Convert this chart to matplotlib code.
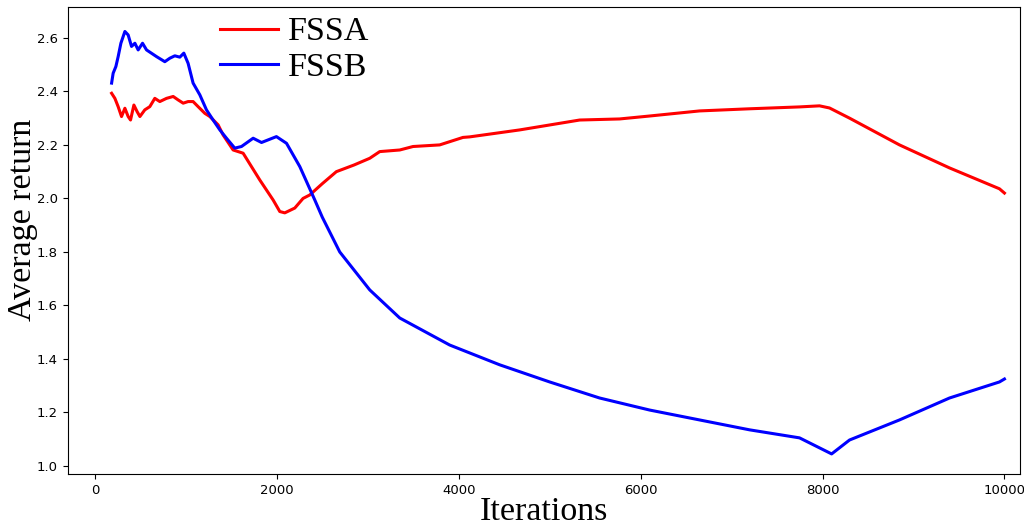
import matplotlib.pyplot as plt

# FSSA (red)
fssa_x = [184, 220, 256, 293, 330, 366, 392, 429, 465, 495, 549, 604, 659, 714,
          788, 861, 916, 971, 1025, 1080, 1135, 1209, 1264, 1355, 1410, 1520,
          1630, 1813, 1960, 2033, 2088, 2198, 2289, 2363, 2500, 2655, 2850, 3022,
          3132, 3352, 3498, 3791, 4047, 4121, 4670, 5330, 5769, 6099, 6648, 7198,
          7747, 7967, 8077, 8297, 8846, 9396, 9945, 10000]
fssa_y = [2.393, 2.374, 2.343, 2.306, 2.337, 2.306, 2.293, 2.349, 2.324, 2.306,
          2.331, 2.343, 2.374, 2.362, 2.374, 2.381, 2.368, 2.356, 2.362, 2.362,
          2.343, 2.318, 2.306, 2.275, 2.237, 2.181, 2.169, 2.069, 1.994, 1.951,
          1.946, 1.964, 2.000, 2.013, 2.055, 2.100, 2.125, 2.150, 2.175, 2.181,
          2.194, 2.200, 2.228, 2.230, 2.256, 2.293, 2.297, 2.308, 2.327, 2.335,
          2.342, 2.346, 2.338, 2.300, 2.200, 2.114, 2.036, 2.020]

# FSSB (blue)
fssb_x = [184, 201, 231, 256, 286, 330, 366, 403, 440, 476, 524, 568, 678, 769,
          824, 879, 934, 978, 1025, 1080, 1154, 1227, 1300, 1374, 1447, 1538,
          1612, 1740, 1832, 1996, 2107, 2253, 2418, 2500, 2692, 3022, 3352, 3901,
          4451, 5000, 5549, 6099, 6648, 7198, 7747, 8100, 8297, 8846, 9396, 9945,
          10000]
fssb_y = [2.431, 2.468, 2.493, 2.530, 2.580, 2.624, 2.611, 2.568, 2.580, 2.555,
          2.580, 2.555, 2.530, 2.511, 2.524, 2.533, 2.528, 2.543, 2.505, 2.431,
          2.387, 2.331, 2.293, 2.256, 2.225, 2.188, 2.194, 2.225, 2.209, 2.231,
          2.206, 2.119, 1.994, 1.930, 1.800, 1.658, 1.553, 1.452, 1.378, 1.314,
          1.254, 1.209, 1.172, 1.135, 1.105, 1.045, 1.097, 1.172, 1.254, 1.314,
          1.325]

fig = plt.figure(figsize=(10.24, 5.27), dpi=100)
ax = fig.add_axes([0.066, 0.1006, 0.93, 0.8864])

ax.plot(fssa_x, fssa_y, color='red', linewidth=2.2, label='FSSA')
ax.plot(fssb_x, fssb_y, color='blue', linewidth=2.2, label='FSSB')

ax.set_xlim(-300, 10170)
ax.set_ylim(0.97, 2.716)
ax.set_xticks([0, 2000, 4000, 6000, 8000, 10000])
ax.set_yticks([1.0, 1.2, 1.4, 1.6, 1.8, 2.0, 2.2, 2.4, 2.6])
ax.tick_params(labelsize=9.5)

serif = 'Liberation Serif'
ax.set_xlabel('Iterations', fontsize=24.5, family=serif, labelpad=0)
ax.set_ylabel('Average return', fontsize=24.5, family=serif)
ax.yaxis.set_label_coords(-0.0315, 0.544)
ax.legend(loc='upper left', bbox_to_anchor=(0.135, 1.03), frameon=False,
          prop={'family': serif, 'size': 24.5}, handlelength=1.7,
          handletextpad=0.3, borderpad=0.2, labelspacing=0.15)

fig.savefig('out.png')
